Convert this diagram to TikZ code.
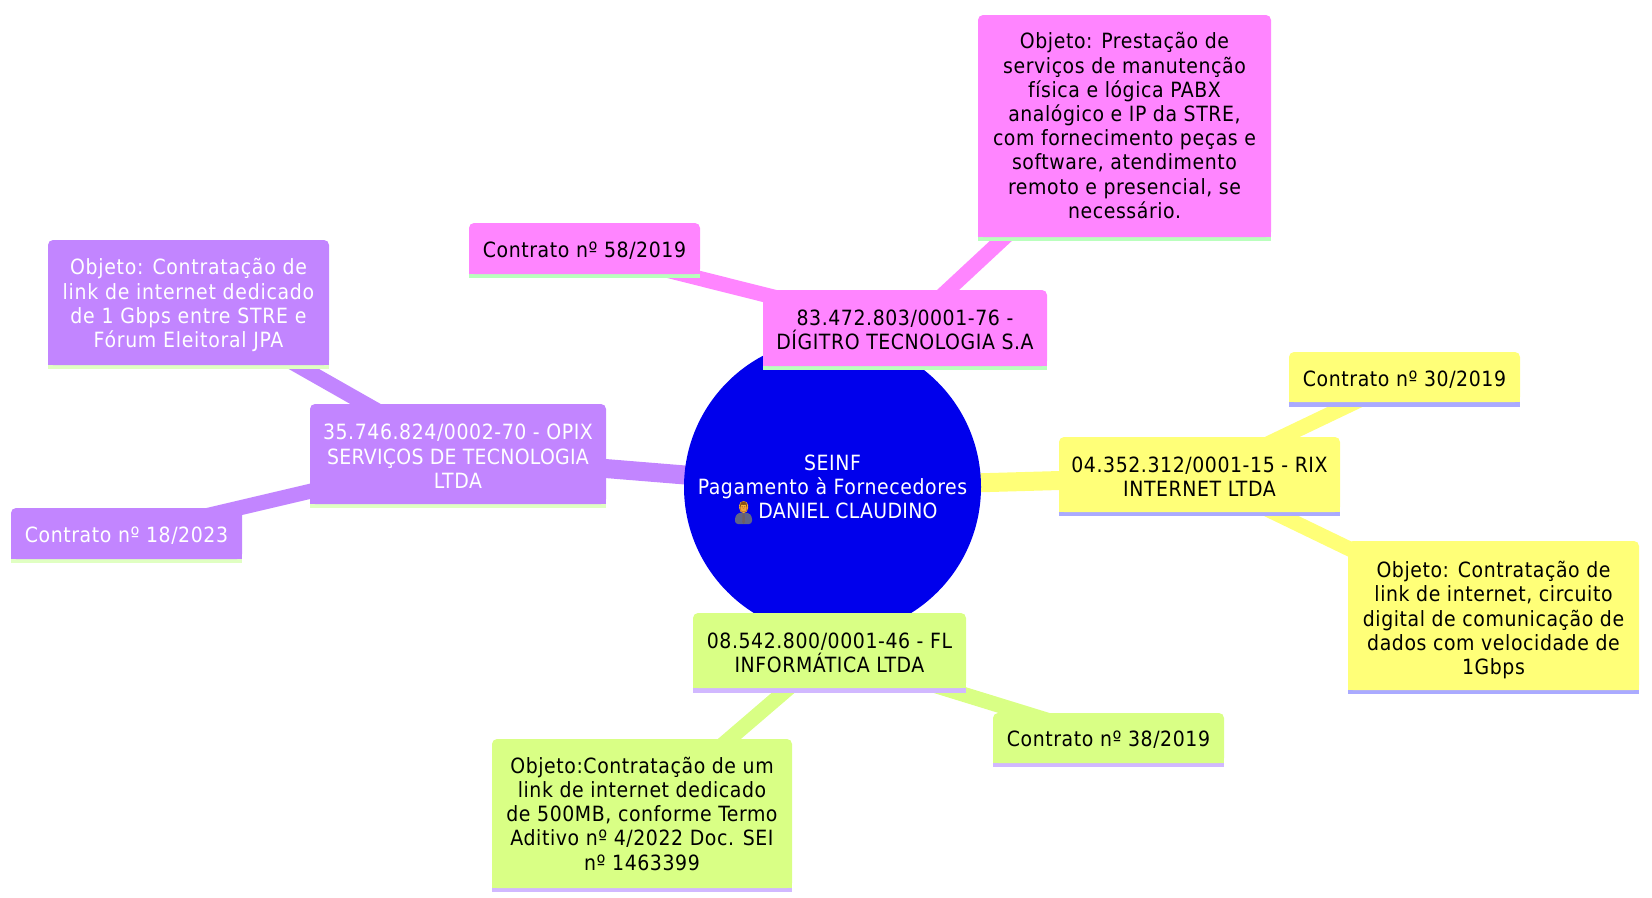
\documentclass[tikz,border=0pt]{standalone}
\usepackage{fontspec}
\setmainfont{DejaVu Sans Condensed}[LetterSpace=2.8]
\newfontfamily\emojifont{Noto Emoji}
\definecolor{fillroot}{HTML}{0000EC}
\definecolor{fillyel}{HTML}{FFFF78}
\definecolor{stripyel}{HTML}{AAAAFF}
\definecolor{fillgrn}{HTML}{D9FF85}
\definecolor{stripgrn}{HTML}{D1B8FF}
\definecolor{fillpur}{HTML}{C285FF}
\definecolor{strippur}{HTML}{E0FFC2}
\definecolor{fillpnk}{HTML}{FF85FF}
\definecolor{strippnk}{HTML}{B9FFBD}
\definecolor{manface}{HTML}{F2A33A}
\definecolor{manhair}{HTML}{F7B733}
\definecolor{mansuit}{HTML}{5F6488}
\definecolor{manline}{HTML}{8A4F14}
\colorlet{textyel}{black}
\colorlet{textgrn}{black}
\colorlet{textpnk}{black}
\colorlet{textpur}{white}
\pgfdeclarelayer{background}
\pgfsetlayers{background,main}
\newcommand{\mmstrut}{\rule{0pt}{19.75pt}}
\newcommand{\mmstrutd}{\rule[-4.45pt]{0pt}{4.45pt}}
\newcommand{\mmtight}[1]{{\addfontfeature{LetterSpace=1.4}#1}}
\newcommand{\mmloose}[1]{{\addfontfeature{LetterSpace=3.5}#1}}
\tikzset{
  x=1pt,y=-1pt,
  nodetext/.style={align=center,inner sep=0pt,font=\fontsize{21}{24.2}\selectfont},
  rootnode/.style={circle,fill=fillroot,text=white,inner sep=0pt,minimum size=297pt,align=center,font=\fontsize{21}{24.2}\selectfont},
  manglyph/.style={inner sep=0pt,text=manline,font=\emojifont\fontsize{10}{10}\selectfont},
  trunk/.style={line width=19pt},
  branch/.style={line width=15pt},
}
% name, x1, y1, x2, y2 (body bottom), y3 (strip bottom), colour key, text y shift, text
\newcommand{\mmbox}[9]{%
  \pgfmathsetmacro{\mmcx}{(#2+#4)/2}%
  \pgfmathsetmacro{\mmcy}{(#3+#6)/2+#8}%
  \pgfmathsetmacro{\mmw}{#4-#2}%
  \pgfmathsetmacro{\mmh}{#6-#3}%
  \pgfmathsetmacro{\mmyy}{#3+10}%
  \fill[strip#7] (#2,#5) rectangle (#4,#6);
  \fill[fill#7,rounded corners=5pt] (#2,#3) rectangle (#4,#5);
  \fill[fill#7] (#2,\mmyy) rectangle (#4,#5);
  \node[nodetext,text=text#7,minimum width=\mmw pt,minimum height=\mmh pt] (#1) at (\mmcx,\mmcy) {\mmstrut#9\mmstrutd};
}
\begin{document}
\begin{tikzpicture}
\useasboundingbox (0,0) rectangle (1652,897);
\node[rootnode] (root) at (832.5,487) {\mmstrut SEINF\\Pagamento à Fornecedores\\\makebox[31pt]{}\mmtight{DANIEL CLAUDINO}\mmstrutd};
% business-person emoji
\fill[mansuit,rounded corners=3pt] (735,524) -- (735,516) -- (739,512.5) -- (748,512.5) -- (752,516) -- (752,524) -- cycle;
\fill[manline!30!mansuit] (742.6,513) -- (744.6,513) -- (745,522) -- (743.6,524) -- (742.2,522) -- cycle;
\fill[manface] (743.6,507.5) ellipse[x radius=4.6pt,y radius=5.6pt];
\fill[manhair] (739,506) arc[start angle=180,end angle=360,x radius=4.6pt,y radius=-5pt] -- cycle;
\node[manglyph] (rootman) at (743.6,507) {👨};

\mmbox{pnkobj}{978}{15}{1271}{237}{241}{pnk}{-2}{Objeto: Prestação de\\serviços de manutenção\\física e lógica PABX\\analógico e IP da STRE,\\com fornecimento peças e\\software, atendimento\\remoto e presencial, se\\necessário.}
\mmbox{pnkcon}{469}{223}{700}{274}{278}{pnk}{-1}{Contrato nº 58/2019}
\mmbox{pnkmain}{763}{290}{1047}{366}{370}{pnk}{0}{83.472.803/0001-76 -\\DÍGITRO TECNOLOGIA S.A}

\mmbox{yelcon}{1289}{352}{1520}{402}{407}{yel}{-1}{Contrato nº 30/2019}
\mmbox{yelmain}{1059}{437}{1340}{512}{516}{yel}{0}{04.352.312/0001-15 - RIX\\INTERNET LTDA}
\mmbox{yelobj}{1348}{541}{1639}{690}{694}{yel}{1}{Objeto: Contratação de\\link de internet, circuito\\digital de comunicação de\\dados com velocidade de\\1Gbps}

\mmbox{grnmain}{693}{613}{966}{688}{693}{grn}{0}{08.542.800/0001-46 - FL\\INFORMÁTICA LTDA}
\mmbox{grncon}{993}{713}{1224}{763}{767}{grn}{-1}{Contrato nº 38/2019}
\mmbox{grnobj}{492}{739}{792}{888}{892}{grn}{-1.5}{Objeto:Contratação de um\\link de internet dedicado\\de 500MB, conforme Termo\\Aditivo nº 4/2022 Doc. SEI\\nº 1463399}

\mmbox{purobj}{48}{240}{329}{365}{369}{pur}{-1}{\mmloose{Objeto: Contratação de}\\\mmloose{link de internet dedicado}\\\mmloose{de 1 Gbps entre STRE e}\\\mmloose{Fórum Eleitoral JPA}}
\mmbox{purmain}{310}{404}{606}{504}{508}{pur}{0.5}{35.746.824/0002-70 - OPIX\\\mmtight{SERVIÇOS DE TECNOLOGIA}\\LTDA}
\mmbox{purcon}{11}{508}{242}{559}{563}{pur}{-1}{Contrato nº 18/2023}

\begin{pgfonlayer}{background}
\draw[trunk,fillpnk] (root.center) -- (pnkmain.center);
\draw[trunk,fillyel] (root.center) -- (yelmain.center);
\draw[trunk,fillgrn] (root.center) -- (grnmain.center);
\draw[trunk,fillpur] (root.center) -- (purmain.center);
\draw[branch,fillpnk] (pnkmain.center) -- (pnkobj.center);
\draw[branch,fillpnk] (pnkmain.center) -- (pnkcon.center);
\draw[branch,fillyel] (yelmain.center) -- (yelcon.center);
\draw[branch,fillyel] (yelmain.center) -- (yelobj.center);
\draw[branch,fillgrn] (grnmain.center) -- (grncon.center);
\draw[branch,fillgrn] (grnmain.center) -- (grnobj.center);
\draw[branch,fillpur] (purmain.center) -- (purobj.center);
\draw[branch,fillpur] (purmain.center) -- (purcon.center);
\end{pgfonlayer}
\end{tikzpicture}
\end{document}
